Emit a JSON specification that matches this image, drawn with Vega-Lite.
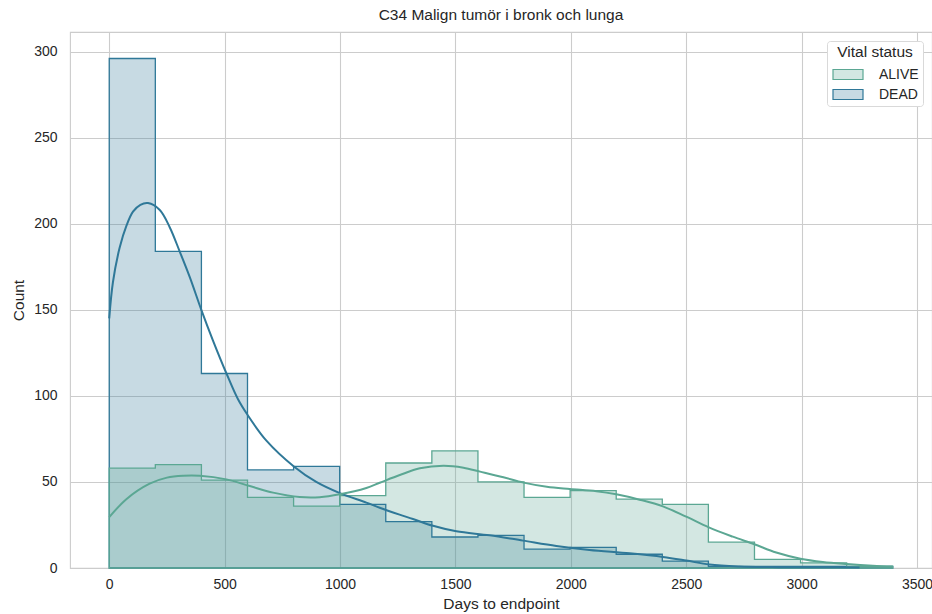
{
  "$schema": "https://vega.github.io/schema/vega-lite/v6.json",
  "width": 862,
  "height": 536,
  "autosize": {"type": "none"},
  "padding": {"left": 70, "top": 32, "right": 0, "bottom": 46},
  "background": "white",
  "title": {
    "text": "C34 Malign tumör i bronk och lunga",
    "fontSize": 15.5,
    "fontWeight": "normal",
    "color": "#262626",
    "anchor": "middle",
    "offset": 9
  },
  "datasets": {
    "hist": [
      {"status": "DEAD", "i": 0, "x0": 0, "x1": 199.7, "count": 296},
      {"status": "DEAD", "i": 1, "x0": 199.7, "x1": 399.4, "count": 184},
      {"status": "DEAD", "i": 2, "x0": 399.4, "x1": 599.1, "count": 113},
      {"status": "DEAD", "i": 3, "x0": 599.1, "x1": 798.8, "count": 57},
      {"status": "DEAD", "i": 4, "x0": 798.8, "x1": 998.5, "count": 59},
      {"status": "DEAD", "i": 5, "x0": 998.5, "x1": 1198.2, "count": 37},
      {"status": "DEAD", "i": 6, "x0": 1198.2, "x1": 1397.9, "count": 27},
      {"status": "DEAD", "i": 7, "x0": 1397.9, "x1": 1597.6, "count": 18},
      {"status": "DEAD", "i": 8, "x0": 1597.6, "x1": 1797.3, "count": 19},
      {"status": "DEAD", "i": 9, "x0": 1797.3, "x1": 1997, "count": 11},
      {"status": "DEAD", "i": 10, "x0": 1997, "x1": 2196.7, "count": 12},
      {"status": "DEAD", "i": 11, "x0": 2196.7, "x1": 2396.4, "count": 8},
      {"status": "DEAD", "i": 12, "x0": 2396.4, "x1": 2596.1, "count": 4},
      {"status": "DEAD", "i": 13, "x0": 2596.1, "x1": 2795.8, "count": 1},
      {"status": "DEAD", "i": 14, "x0": 2795.8, "x1": 2995.5, "count": 1},
      {"status": "DEAD", "i": 15, "x0": 2995.5, "x1": 3195.2, "count": 1},
      {"status": "DEAD", "i": 16, "x0": 3195.2, "x1": 3394.9, "count": 1},
      {"status": "ALIVE", "i": 0, "x0": 0, "x1": 199.7, "count": 58},
      {"status": "ALIVE", "i": 1, "x0": 199.7, "x1": 399.4, "count": 60},
      {"status": "ALIVE", "i": 2, "x0": 399.4, "x1": 599.1, "count": 51},
      {"status": "ALIVE", "i": 3, "x0": 599.1, "x1": 798.8, "count": 41},
      {"status": "ALIVE", "i": 4, "x0": 798.8, "x1": 998.5, "count": 36},
      {"status": "ALIVE", "i": 5, "x0": 998.5, "x1": 1198.2, "count": 42},
      {"status": "ALIVE", "i": 6, "x0": 1198.2, "x1": 1397.9, "count": 61},
      {"status": "ALIVE", "i": 7, "x0": 1397.9, "x1": 1597.6, "count": 68},
      {"status": "ALIVE", "i": 8, "x0": 1597.6, "x1": 1797.3, "count": 50},
      {"status": "ALIVE", "i": 9, "x0": 1797.3, "x1": 1997, "count": 41},
      {"status": "ALIVE", "i": 10, "x0": 1997, "x1": 2196.7, "count": 45},
      {"status": "ALIVE", "i": 11, "x0": 2196.7, "x1": 2396.4, "count": 40},
      {"status": "ALIVE", "i": 12, "x0": 2396.4, "x1": 2596.1, "count": 37},
      {"status": "ALIVE", "i": 13, "x0": 2596.1, "x1": 2795.8, "count": 15},
      {"status": "ALIVE", "i": 14, "x0": 2795.8, "x1": 2995.5, "count": 5},
      {"status": "ALIVE", "i": 15, "x0": 2995.5, "x1": 3195.2, "count": 3},
      {"status": "ALIVE", "i": 16, "x0": 3195.2, "x1": 3394.9, "count": 1}
    ],
    "kde": [
      {"status": "DEAD", "x": 0, "y": 145},
      {"status": "DEAD", "x": 16, "y": 166},
      {"status": "DEAD", "x": 45, "y": 186},
      {"status": "DEAD", "x": 75, "y": 199},
      {"status": "DEAD", "x": 103, "y": 207},
      {"status": "DEAD", "x": 135, "y": 211},
      {"status": "DEAD", "x": 168, "y": 212},
      {"status": "DEAD", "x": 219, "y": 208},
      {"status": "DEAD", "x": 262, "y": 198},
      {"status": "DEAD", "x": 305, "y": 184},
      {"status": "DEAD", "x": 349, "y": 169},
      {"status": "DEAD", "x": 399, "y": 150},
      {"status": "DEAD", "x": 450, "y": 132},
      {"status": "DEAD", "x": 508, "y": 113},
      {"status": "DEAD", "x": 558, "y": 98},
      {"status": "DEAD", "x": 599, "y": 89},
      {"status": "DEAD", "x": 681, "y": 74},
      {"status": "DEAD", "x": 800, "y": 59},
      {"status": "DEAD", "x": 897, "y": 50},
      {"status": "DEAD", "x": 999, "y": 43.5},
      {"status": "DEAD", "x": 1114, "y": 38},
      {"status": "DEAD", "x": 1172, "y": 35},
      {"status": "DEAD", "x": 1258, "y": 31},
      {"status": "DEAD", "x": 1316, "y": 28.5},
      {"status": "DEAD", "x": 1403, "y": 24.5},
      {"status": "DEAD", "x": 1504, "y": 21.3},
      {"status": "DEAD", "x": 1648, "y": 19},
      {"status": "DEAD", "x": 1793, "y": 15.9},
      {"status": "DEAD", "x": 1937, "y": 12.8},
      {"status": "DEAD", "x": 2081, "y": 10.5},
      {"status": "DEAD", "x": 2255, "y": 8.5},
      {"status": "DEAD", "x": 2399, "y": 6.4},
      {"status": "DEAD", "x": 2500, "y": 4.3},
      {"status": "DEAD", "x": 2601, "y": 2},
      {"status": "DEAD", "x": 2731, "y": 0.9},
      {"status": "DEAD", "x": 2900, "y": 0.5},
      {"status": "DEAD", "x": 3100, "y": 0.4},
      {"status": "DEAD", "x": 3251, "y": 0.3},
      {"status": "ALIVE", "x": 0, "y": 29.5},
      {"status": "ALIVE", "x": 74, "y": 40},
      {"status": "ALIVE", "x": 175, "y": 49},
      {"status": "ALIVE", "x": 250, "y": 52.5},
      {"status": "ALIVE", "x": 320, "y": 53.6},
      {"status": "ALIVE", "x": 392, "y": 53.6},
      {"status": "ALIVE", "x": 508, "y": 51.5},
      {"status": "ALIVE", "x": 609, "y": 47.6},
      {"status": "ALIVE", "x": 710, "y": 43.8},
      {"status": "ALIVE", "x": 825, "y": 41.2},
      {"status": "ALIVE", "x": 912, "y": 41.1},
      {"status": "ALIVE", "x": 999, "y": 42.8},
      {"status": "ALIVE", "x": 1114, "y": 46.5},
      {"status": "ALIVE", "x": 1172, "y": 49.5},
      {"status": "ALIVE", "x": 1259, "y": 54},
      {"status": "ALIVE", "x": 1346, "y": 57.9},
      {"status": "ALIVE", "x": 1448, "y": 59.4},
      {"status": "ALIVE", "x": 1535, "y": 58.3},
      {"status": "ALIVE", "x": 1607, "y": 56},
      {"status": "ALIVE", "x": 1708, "y": 52.7},
      {"status": "ALIVE", "x": 1795, "y": 49.6},
      {"status": "ALIVE", "x": 1896, "y": 47.2},
      {"status": "ALIVE", "x": 1996, "y": 45.9},
      {"status": "ALIVE", "x": 2111, "y": 44.6},
      {"status": "ALIVE", "x": 2197, "y": 42.8},
      {"status": "ALIVE", "x": 2298, "y": 39.7},
      {"status": "ALIVE", "x": 2399, "y": 35.8},
      {"status": "ALIVE", "x": 2500, "y": 29.8},
      {"status": "ALIVE", "x": 2598, "y": 23.6},
      {"status": "ALIVE", "x": 2702, "y": 18.2},
      {"status": "ALIVE", "x": 2795, "y": 13.8},
      {"status": "ALIVE", "x": 2890, "y": 9},
      {"status": "ALIVE", "x": 2995, "y": 5.4},
      {"status": "ALIVE", "x": 3092, "y": 3.5},
      {"status": "ALIVE", "x": 3196, "y": 2.3},
      {"status": "ALIVE", "x": 3309, "y": 1.3},
      {"status": "ALIVE", "x": 3395, "y": 0.8}
    ]
  },
  "layer": [
    {
      "data": {"name": "hist"},
      "transform": [{"fold": ["x0", "x1"], "as": ["edge", "xv"]}],
      "mark": {"type": "area", "fillOpacity": 0.27, "strokeWidth": 0},
      "encoding": {
        "x": {
          "field": "xv", "type": "quantitative",
          "scale": {"domain": [-170, 3565], "nice": false, "zero": false},
          "axis": {
            "title": "Days to endpoint",
            "values": [0, 500, 1000, 1500, 2000, 2500, 3000, 3500],
            "format": "d",
            "labelPadding": 9, "titlePadding": 5,
            "labelFlush": false, "labelOverlap": false
          }
        },
        "y": {
          "field": "count", "type": "quantitative", "stack": null,
          "scale": {"domain": [0, 311.4], "nice": false},
          "axis": {
            "title": "Count",
            "values": [0, 50, 100, 150, 200, 250, 300],
            "format": "d",
            "labelPadding": 13, "titlePadding": 7
          }
        },
        "color": {
          "field": "status", "type": "nominal",
          "scale": {"domain": ["ALIVE", "DEAD"], "range": ["#5ba793", "#2f7898"]},
          "legend": {
            "title": "Vital status",
            "orient": "none",
            "legendX": 757,
            "legendY": 9,
            "padding": 4,
            "fillColor": "white",
            "strokeColor": "#d9d9d9",
            "cornerRadius": 3,
            "titleFontSize": 15.5,
            "titleFontWeight": "normal",
            "titleColor": "#262626",
            "titleAnchor": "middle",
            "titlePadding": 3,
            "labelFontSize": 14,
            "labelColor": "#262626",
            "symbolType": "M-1.5,-0.5H1.5V0.5H-1.5Z",
            "symbolSize": 400,
            "symbolOffset": 6,
            "labelOffset": 20,
            "rowPadding": 1,
            "encode": {
              "symbols": {
                "update": {
                  "fill": {"scale": "color", "field": "value"},
                  "fillOpacity": {"value": 0.27},
                  "stroke": {"scale": "color", "field": "value"},
                  "strokeWidth": {"value": 1.2},
                  "opacity": {"value": 1}
                }
              }
            }
          }
        },
        "order": [{"field": "i", "type": "quantitative"}, {"field": "edge", "type": "nominal"}]
      }
    },
    {
      "data": {"name": "hist"},
      "transform": [{"fold": ["x0", "x1"], "as": ["edge", "xv"]}],
      "mark": {"type": "area", "filled": false, "strokeWidth": 1.3},
      "encoding": {
        "x": {"field": "xv", "type": "quantitative"},
        "y": {"field": "count", "type": "quantitative", "stack": null},
        "color": {"field": "status", "type": "nominal", "legend": null},
        "order": [{"field": "i", "type": "quantitative"}, {"field": "edge", "type": "nominal"}]
      }
    },
    {
      "data": {"name": "kde"},
      "mark": {"type": "line", "strokeWidth": 2, "interpolate": "catmull-rom"},
      "encoding": {
        "x": {"field": "x", "type": "quantitative"},
        "y": {"field": "y", "type": "quantitative"},
        "color": {"field": "status", "type": "nominal", "legend": null}
      }
    }
  ],
  "config": {
    "font": "Liberation Sans",
    "view": {"stroke": "#cccccc", "strokeWidth": 1.1},
    "axis": {
      "grid": true,
      "gridColor": "#cccccc",
      "gridWidth": 1.1,
      "ticks": false,
      "domain": false,
      "labelColor": "#262626",
      "labelFontSize": 14,
      "titleColor": "#262626",
      "titleFontSize": 15.5,
      "titleFontWeight": "normal"
    }
  }
}
